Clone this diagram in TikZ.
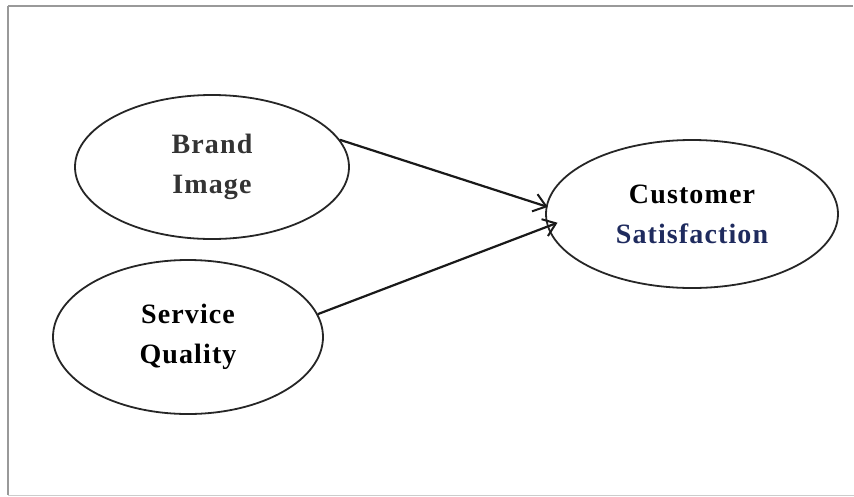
\documentclass[tikz,border=0pt]{standalone}
\usepackage{fontspec}
\setmainfont{Liberation Serif}
\newfontfamily\lblfont[LetterSpace=4]{Liberation Serif}
\usetikzlibrary{shapes.geometric,arrows.meta}
\definecolor{navytext}{HTML}{1F2B5E}
\definecolor{greytext}{HTML}{333333}
\begin{document}
\begin{tikzpicture}[x=1pt,y=-1pt,
  oval/.style={ellipse,draw=black!85,line width=1.8pt,inner sep=0pt,align=center,
    font=\lblfont\fontsize{28}{40}\selectfont\bfseries},
  link/.style={draw=black!90,line width=2.2pt,-{Straight Barb[length=12pt,width=18pt,line width=2pt]}}]
\useasboundingbox (0,0) rectangle (854,496);
\draw[black!40,line width=1.2pt] (8,6) -- (853,6);
\draw[black!40,line width=1.2pt] (8,6) -- (8,495);
\draw[black!20,line width=1pt] (8,495) -- (854,495);
\node[oval,minimum width=274pt,minimum height=144pt,text=greytext] (bi) at (212,167) {Brand\\Image};
\node[oval,minimum width=270pt,minimum height=154pt] (sq) at (188,337) {Service\\Quality};
\node[oval,minimum width=292pt,minimum height=148pt] (cs) at (692,214) {Customer\\\textcolor{navytext}{Satisfaction}};
\draw[link,shorten >=-2pt] (bi.12) -- (cs.177.6);
\draw[link,shorten >=-11pt] (sq.10.7) -- (cs.185.6);
\end{tikzpicture}
\end{document}
